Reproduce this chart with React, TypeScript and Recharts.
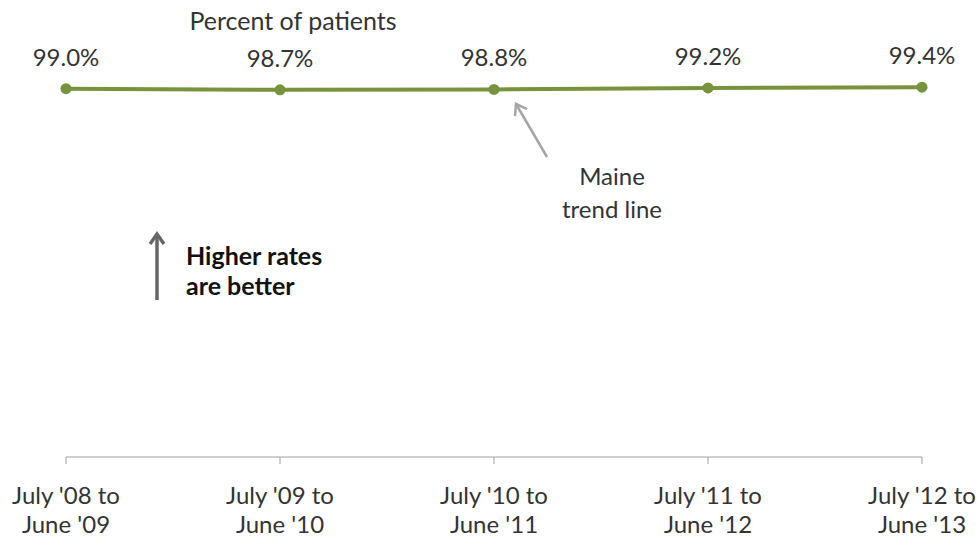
import React from 'react';
import { LineChart, Line, XAxis, YAxis, LabelList } from 'recharts';

const periods = [
  "July '08 to June '09",
  "July '09 to June '10",
  "July '10 to June '11",
  "July '11 to June '12",
  "July '12 to June '13",
];
const maineRates = [99.0, 98.7, 98.8, 99.2, 99.4];

const data = periods.map((p, i) => ({ period: p, maine: maineRates[i] }));

const FONT = 'Lato, "Open Sans", sans-serif';
const GREEN = '#77933c';

const PeriodTick = (props: any) => {
  const { x, y, payload } = props;
  const idx = payload.value.indexOf(' to ');
  const first = payload.value.slice(0, idx + 3);
  const second = payload.value.slice(idx + 4);
  return (
    <text x={x} y={y} textAnchor="middle" fill="#333" fontSize={24} fontFamily={FONT}>
      <tspan x={x} dy={38}>{first}</tspan>
      <tspan x={x} dy={29}>{second}</tspan>
    </text>
  );
};

const App: React.FC = () => {
  return (
    <div style={{ position: 'absolute', left: 0, top: 0, width: 979, height: 537, background: '#fff', fontFamily: FONT }}>
      <LineChart width={979} height={537} data={data} margin={{ top: 85, right: 57, bottom: 50, left: 66 }}>
        <XAxis
          dataKey="period"
          stroke="#a0a0a0"
          tickSize={7}
          tick={<PeriodTick />}
          interval={0}
          padding={{ left: 0, right: 0 }}
        />
        <YAxis hide domain={[0, 100]} />
        <Line
          dataKey="maine"
          stroke={GREEN}
          strokeWidth={4}
          dot={{ r: 5.5, fill: GREEN, stroke: GREEN, strokeWidth: 0 }}
          isAnimationActive={false}
        >
          <LabelList
            dataKey="maine"
            position="top"
            offset={23}
            formatter={(v: any) => `${Number(v).toFixed(1)}%`}
            style={{ fill: '#333', fontSize: 24, fontFamily: FONT }}
          />
        </Line>
      </LineChart>

      <svg width={979} height={537} style={{ position: 'absolute', left: 0, top: 0, pointerEvents: 'none' }}>
        <defs>
          <marker id="openHead" markerWidth="16" markerHeight="16" refX="12" refY="8" orient="auto" markerUnits="userSpaceOnUse">
            <path d="M2,1 L12,8 L2,15" fill="none" stroke="#a6a6a6" strokeWidth={2.5} />
          </marker>
          <marker id="darkHead" markerWidth="16" markerHeight="16" refX="12" refY="8" orient="auto" markerUnits="userSpaceOnUse">
            <path d="M2,1 L12,8 L2,15" fill="none" stroke="#666" strokeWidth={3.5} />
          </marker>
        </defs>
        <line x1={547} y1={157} x2={516} y2={104} stroke="#a6a6a6" strokeWidth={2.5} markerEnd="url(#openHead)" />
        <line x1={157} y1={300} x2={157} y2={234} stroke="#666" strokeWidth={3.5} markerEnd="url(#darkHead)" />
        <text x={293} y={30} textAnchor="middle" fill="#333" fontSize={25} fontFamily={FONT}>Percent of patients</text>
        <text x={612} y={185} textAnchor="middle" fill="#333" fontSize={24} fontFamily={FONT}>Maine</text>
        <text x={612} y={218} textAnchor="middle" fill="#333" fontSize={24} fontFamily={FONT}>trend line</text>
        <text x={186} y={265} fill="#111" fontSize={25} fontWeight="bold" fontFamily={FONT}>Higher rates</text>
        <text x={186} y={295} fill="#111" fontSize={25} fontWeight="bold" fontFamily={FONT}>are better</text>
      </svg>
    </div>
  );
};

export default App;
